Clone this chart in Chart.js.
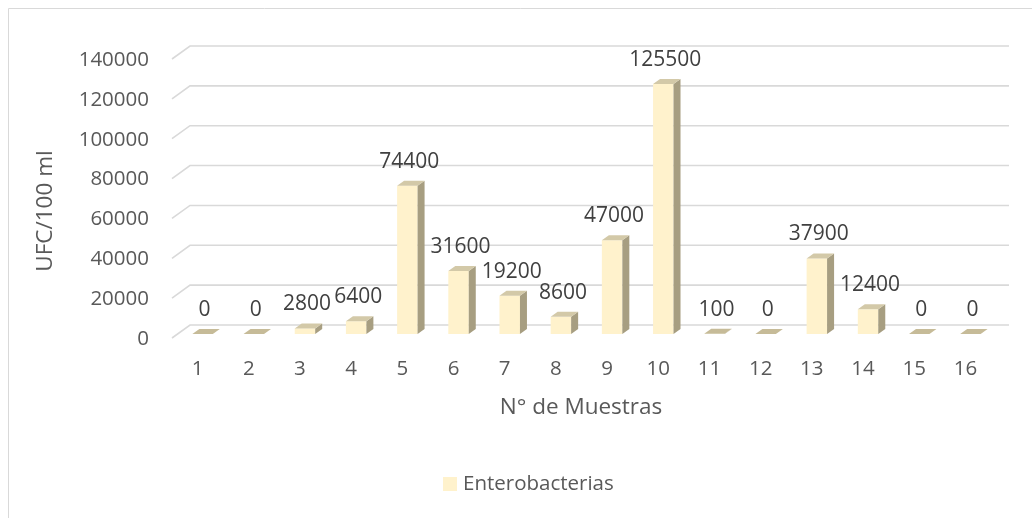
<!DOCTYPE html>
<html>
<head>
<meta charset="utf-8">
<script src="https://cdn.jsdelivr.net/npm/chart.js@4.4.1/dist/chart.umd.min.js"></script>
<style>
body{margin:0;background:#fff}
</style>
</head>
<body>
<canvas id="chart" width="1032" height="518"></canvas>
<script>
// data
const muestras = ['1','2','3','4','5','6','7','8','9','10','11','12','13','14','15','16']
const ufc = [0,0,2800,6400,74400,31600,19200,8600,47000,125500,100,0,37900,12400,0,0]
const yTicks = [0,20000,40000,60000,80000,100000,120000,140000]
const serieName = 'Enterobacterias'

const FONT = '"Open Sans", sans-serif'
// 3D offsets, relative to the bar front plane
const wall = {dx:13, dy:-9}
const front = {dx:-5, dy:4}
const depth = {dx:7, dy:-5}

const fake3d = {
  id:'fake3d',
  beforeDatasetsDraw(chart){
    const c = chart.ctx, y = chart.scales.y, a = chart.chartArea
    c.save()
    // outer frame
    c.strokeStyle = '#d9d9d9'; c.lineWidth = 1
    c.beginPath(); c.moveTo(8.5,518); c.lineTo(8.5,8.5); c.lineTo(1032,8.5); c.stroke()
    // back wall grid + left diagonals
    c.lineWidth = 1.6; c.strokeStyle = '#d9d9d9'
    yTicks.forEach(v=>{
      const py = y.getPixelForValue(v)
      c.beginPath()
      c.moveTo(a.left+front.dx, py+front.dy)
      c.lineTo(a.left+wall.dx, py+wall.dy)
      c.lineTo(a.right+wall.dx, py+wall.dy)
      c.stroke()
    })
    c.restore()
  },
  afterDatasetsDraw(chart){
    const c = chart.ctx, x = chart.scales.x, y = chart.scales.y
    const meta = chart.getDatasetMeta(0)
    c.save()
    meta.data.forEach((bar,i)=>{
      const L = bar.x-bar.width/2, R = bar.x+bar.width/2, top = bar.y, base = bar.base
      // side
      c.fillStyle = '#a79e81'
      c.beginPath()
      c.moveTo(R,top); c.lineTo(R+depth.dx,top+depth.dy); c.lineTo(R+depth.dx,base+depth.dy); c.lineTo(R,base)
      c.closePath(); c.fill()
      // top
      c.fillStyle = ufc[i] < 500 ? '#c6bb98' : '#d3c9a8'
      c.beginPath()
      c.moveTo(L,top); c.lineTo(R,top); c.lineTo(R+depth.dx,top+depth.dy); c.lineTo(L+depth.dx,top+depth.dy)
      c.closePath(); c.fill()
      // value label
      c.fillStyle = '#404040'; c.font = '21px '+FONT
      c.textAlign = 'center'; c.textBaseline = 'middle'
      c.fillText(String(ufc[i]), bar.x+2, top-24)
    })
    // y ticks
    c.fillStyle = '#595959'; c.font = '20.5px '+FONT
    c.textAlign = 'right'; c.textBaseline = 'middle'
    yTicks.forEach(v=>c.fillText(String(v), 149, y.getPixelForValue(v)+front.dy+1))
    // x ticks
    c.textAlign = 'center'
    muestras.forEach((m,i)=>c.fillText(m, x.getPixelForValue(i)+front.dx, 369))
    // axis titles
    c.font = '22.5px '+FONT
    c.fillText('N° de Muestras', 581, 408)
    c.save(); c.translate(46,211); c.rotate(-Math.PI/2); c.fillText('UFC/100 ml',0,0); c.restore()
    // legend
    c.fillStyle = '#fff2cc'; c.fillRect(443,477,14,14)
    c.fillStyle = '#595959'; c.textAlign = 'left'; c.font = '20.5px '+FONT
    c.fillText(serieName, 463, 484)
    c.restore()
  }
}

new Chart(document.getElementById('chart'), {
  type:'bar',
  data:{
    labels: muestras,
    datasets:[{label: serieName, data: ufc, backgroundColor:'#fff2cc', barPercentage:0.4, categoryPercentage:1}]
  },
  options:{
    responsive:false,
    animation:false,
    layout:{padding:{left:177, right:36, top:55, bottom:184}},
    scales:{
      x:{display:false},
      y:{display:false, min:0, max:140000}
    },
    plugins:{legend:{display:false}, tooltip:{enabled:false}}
  },
  plugins:[fake3d]
})
</script>
</body>
</html>
